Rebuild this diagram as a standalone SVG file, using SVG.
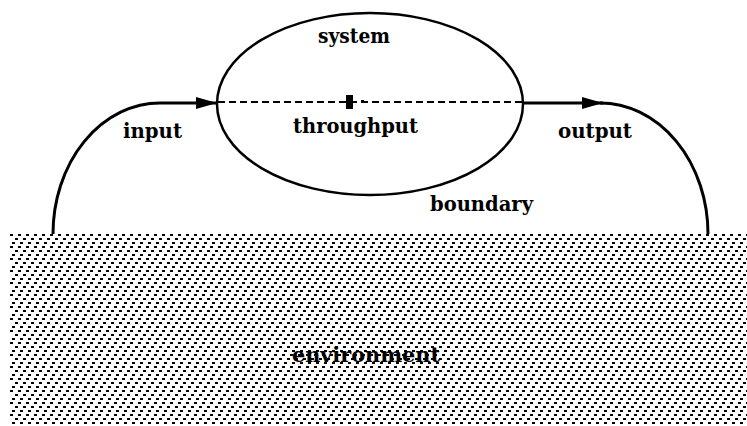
<svg xmlns="http://www.w3.org/2000/svg" width="747" height="426" viewBox="0 0 747 426">
<style>
.lbl{font-family:"DejaVu Serif","Liberation Serif",serif;font-size:20px;font-weight:bold;fill:#000}
.ln{fill:none;stroke:#000;stroke-width:3}
</style>
<defs>
<pattern id="dots" patternUnits="userSpaceOnUse" x="10" y="234" width="8" height="12">
<rect x="0" y="0" width="3" height="2" fill="#000"/>
<rect x="5" y="4" width="3" height="2" fill="#000"/>
<rect x="2" y="8" width="3" height="2" fill="#000"/>
</pattern>
<marker id="arr" markerUnits="userSpaceOnUse" markerWidth="22" markerHeight="14" refX="21" refY="7" orient="auto">
<path d="M0,1 L21,7 L0,13 z" fill="#000"/>
</marker>
</defs>
<rect width="747" height="426" fill="#fff"/>
<g id="environment">
<rect x="10" y="234" width="737" height="192" fill="url(#dots)"/>
<text class="lbl" x="292" y="362" textLength="148" lengthAdjust="spacingAndGlyphs">environment</text>
</g>
<g id="system">
<ellipse cx="370" cy="104" rx="153" ry="91" fill="none" stroke="#000" stroke-width="2.5"/>
<text class="lbl" x="318" y="43" textLength="72" lengthAdjust="spacingAndGlyphs">system</text>
<text class="lbl" x="430" y="211" textLength="103" lengthAdjust="spacingAndGlyphs">boundary</text>
</g>
<g id="connectors">
<path class="ln" d="M53,234 A107,131 0 0 1 160,103 L217,103" marker-end="url(#arr)"/>
<path d="M218,102 L523,102" fill="none" stroke="#000" stroke-width="2" stroke-dasharray="7,4"/>
<rect x="346" y="95" width="7" height="14" fill="#000"/>
<rect x="361" y="100" width="3" height="3" fill="#000"/>
<path class="ln" d="M523,103 L603,103" marker-end="url(#arr)"/>
<path class="ln" d="M600,103 A108,131 0 0 1 708,234"/>
</g>
<g id="labels">
<text class="lbl" x="123" y="138" textLength="59" lengthAdjust="spacingAndGlyphs">input</text>
<text class="lbl" x="293" y="133" textLength="125" lengthAdjust="spacingAndGlyphs">throughput</text>
<text class="lbl" x="558" y="138" textLength="74" lengthAdjust="spacingAndGlyphs">output</text>
</g>
</svg>
